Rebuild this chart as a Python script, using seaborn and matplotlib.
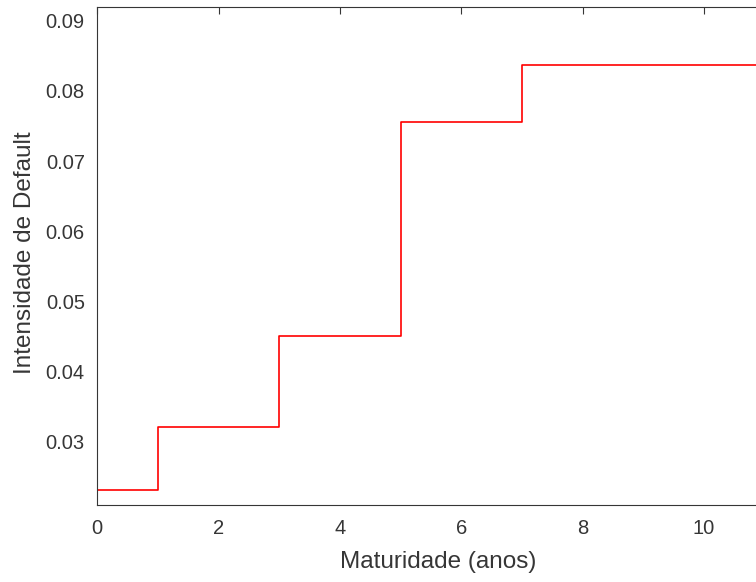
import matplotlib
matplotlib.use("Agg")
import matplotlib.pyplot as plt
import seaborn as sns
import pandas as pd

maturity = [0, 1, 3, 5, 7, 11]
intensity = [0.0231, 0.0321, 0.0451, 0.0756, 0.0837, 0.0837]
xticks = [0, 2, 4, 6, 8, 10]
yticks = [0.03, 0.04, 0.05, 0.06, 0.07, 0.08, 0.09]

sns.set_style("white")
plt.rcParams['font.family'] = ['Liberation Sans', 'DejaVu Sans']

df = pd.DataFrame({"m": maturity, "h": intensity})

fig = plt.figure(figsize=(7.56, 5.82), dpi=100)
ax = fig.add_axes([97.3 / 756, 77 / 582, 667.4 / 756, 498.3 / 582])
sns.lineplot(data=df, x="m", y="h", ax=ax, color="#ff0000", linewidth=1.2,
             drawstyle="steps-post")
ax.set_xlim(0, 11)
ax.set_ylim(0.02098, 0.0920)
ax.set_xticks(xticks)
ax.set_xticklabels([str(t) for t in xticks])
ax.set_yticks(yticks)
ax.set_yticklabels([f"{t:.2f}" for t in yticks])
gray = "#363636"
for s in ax.spines.values():
    s.set_visible(True)
    s.set_color(gray)
    s.set_linewidth(0.8)
ax.tick_params(direction="in", length=5, width=0.8, colors=gray, labelsize=14.5,
               top=True, right=True)
ax.tick_params(axis="x", pad=10)
ax.tick_params(axis="y", pad=9)
ax.set_xlabel("Maturidade (anos)", fontsize=17.5, color=gray)
ax.set_ylabel("Intensidade de Default", fontsize=17.5, color=gray)
ax.xaxis.set_label_coords((438.5 - 97.3) / 667.4, -(562 - 505) / 498.3)
ax.yaxis.set_label_coords(-(97.3 - 25) / 667.4, (582 - 253 - 77) / 498.3)
ax.xaxis.label.set_va("center")
ax.yaxis.label.set_va("center")
fig.savefig("out.png", dpi=100)
